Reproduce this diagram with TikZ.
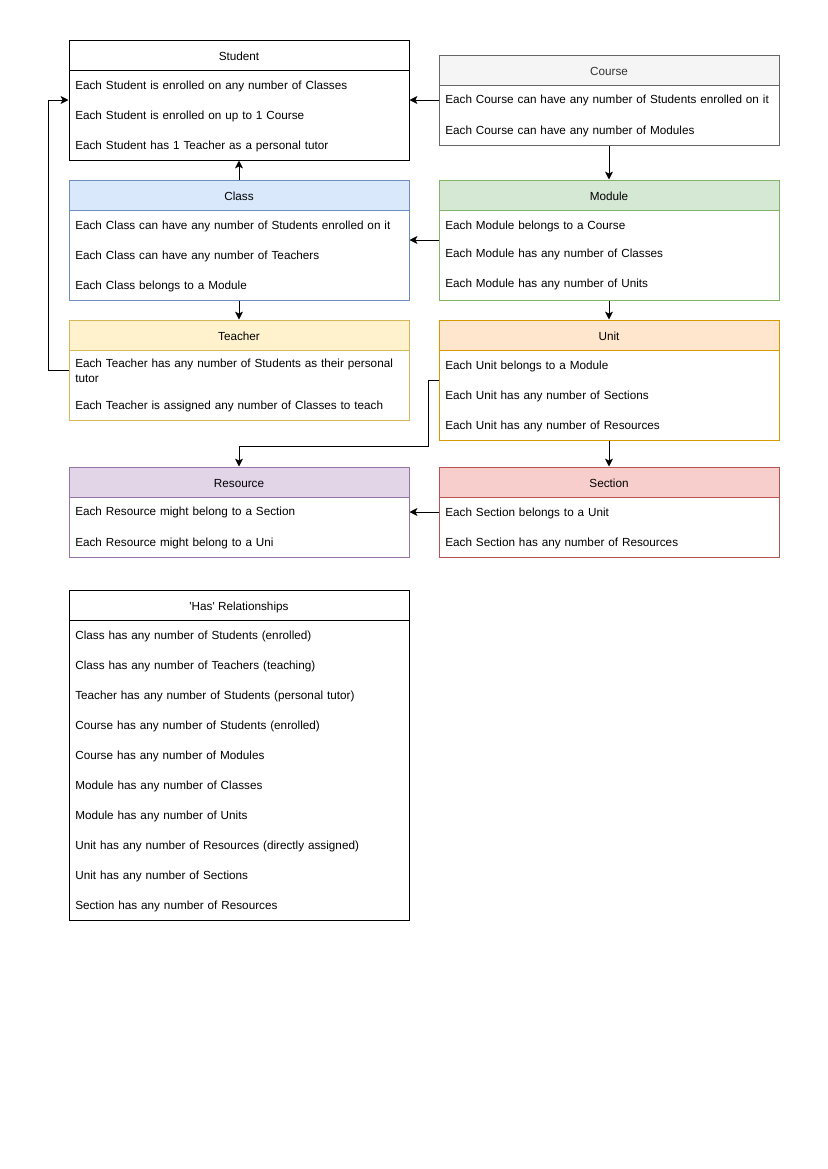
\documentclass[tikz,border=0pt]{standalone}
\usepackage{fontspec}
\setmainfont{Liberation Sans}[Ligatures=TeXOff]
\usepackage{tikz}
\usetikzlibrary{arrows.meta,positioning,calc}
\definecolor{courseFill}{HTML}{F5F5F5}
\definecolor{courseLine}{HTML}{666666}
\definecolor{courseText}{HTML}{333333}
\definecolor{classFill}{HTML}{DAE8FC}
\definecolor{classLine}{HTML}{6C8EBF}
\definecolor{moduleFill}{HTML}{D5E8D4}
\definecolor{moduleLine}{HTML}{82B366}
\definecolor{teacherFill}{HTML}{FFF2CC}
\definecolor{teacherLine}{HTML}{D6B656}
\definecolor{unitFill}{HTML}{FFE6CC}
\definecolor{unitLine}{HTML}{D79B00}
\definecolor{resFill}{HTML}{E1D5E7}
\definecolor{resLine}{HTML}{9673A6}
\definecolor{secFill}{HTML}{F8CECC}
\definecolor{secLine}{HTML}{B85450}
\tikzset{
  entity/.style={draw, fill=white, line width=0.72pt, minimum width=244.8pt, inner sep=0pt},
  head/.style={draw, line width=0.72pt, minimum width=244.8pt, minimum height=21.6pt, inner sep=0pt, anchor=north,
    text height=7.4pt, text depth=0pt, font=\fontsize{8.45}{10.8}\selectfont},
  row/.style={anchor=west, text width=240.5pt, inner xsep=4.32pt, inner ysep=0pt, align=left, yshift=-0.72pt,
    font=\fontsize{8.45}{10.8}\selectfont},
  arrow/.style={-{Stealth[length=5.6pt,width=5.6pt,inset=1.3pt]}, line width=0.72pt},
}
\begin{document}
\begin{tikzpicture}[x=0.72pt, y=-0.72pt]
  \useasboundingbox[fill=white] (0,0) rectangle (827,1169);

  % left column
  \node[entity, minimum height=86.4pt] (student) at (239,100) {};
  \node[head] (studentHead) at (student.north) {Student};
  \node[row] (studentR1) at (69,85) {Each Student is enrolled on any number of Classes};
  \node[row] (studentR2) at (69,115) {Each Student is enrolled on up to 1 Course};
  \node[row] (studentR3) at (69,145) {Each Student has 1 Teacher as a personal tutor};

  \node[entity, draw=classLine, minimum height=86.4pt] (class) at (239,240) {};
  \node[head, fill=classFill, draw=classLine] (classHead) at (class.north) {Class};
  \node[row] (classR1) at (69,225) {Each Class can have any number of Students enrolled on it};
  \node[row] (classR2) at (69,255) {Each Class can have any number of Teachers};
  \node[row] (classR3) at (69,285) {Each Class belongs to a Module};

  \node[entity, draw=teacherLine, minimum height=72pt] (teacher) at (239,370) {};
  \node[head, fill=teacherFill, draw=teacherLine] (teacherHead) at (teacher.north) {Teacher};
  \node[row] (teacherR1) at (69,370) {Each Teacher has any number of Students as their personal\\tutor};
  \node[row] (teacherR2) at (69,405) {Each Teacher is assigned any number of Classes to teach};

  \node[entity, draw=resLine, minimum height=64.8pt] (resource) at (239,512) {};
  \node[head, fill=resFill, draw=resLine] (resourceHead) at (resource.north) {Resource};
  \node[row] (resourceR1) at (69,511) {Each Resource might belong to a Section};
  \node[row] (resourceR2) at (69,542) {Each Resource might belong to a Uni};

  % right column
  \node[entity, draw=courseLine, minimum height=64.8pt] (course) at (609,100) {};
  \node[head, fill=courseFill, draw=courseLine, text=courseText] (courseHead) at (course.north) {Course};
  \node[row] (courseR1) at (439,99) {Each Course can have any number of Students enrolled on it};
  \node[row] (courseR2) at (439,130) {Each Course can have any number of Modules};

  \node[entity, draw=moduleLine, minimum height=86.4pt] (module) at (609,240) {};
  \node[head, fill=moduleFill, draw=moduleLine] (moduleHead) at (module.north) {Module};
  \node[row] (moduleR1) at (439,225) {Each Module belongs to a Course};
  \node[row] (moduleR2) at (439,253) {Each Module has any number of Classes};
  \node[row] (moduleR3) at (439,283) {Each Module has any number of Units};

  \node[entity, draw=unitLine, minimum height=86.4pt] (unit) at (609,380) {};
  \node[head, fill=unitFill, draw=unitLine] (unitHead) at (unit.north) {Unit};
  \node[row] (unitR1) at (439,365) {Each Unit belongs to a Module};
  \node[row] (unitR2) at (439,395) {Each Unit has any number of Sections};
  \node[row] (unitR3) at (439,425) {Each Unit has any number of Resources};

  \node[entity, draw=secLine, minimum height=64.8pt] (section) at (609,512) {};
  \node[head, fill=secFill, draw=secLine] (sectionHead) at (section.north) {Section};
  \node[row] (sectionR1) at (439,512) {Each Section belongs to a Unit};
  \node[row] (sectionR2) at (439,542) {Each Section has any number of Resources};

  % summary table
  \node[entity, minimum height=237.6pt] (has) at (239,755) {};
  \node[head] (hasHead) at (has.north) {'Has' Relationships};
  \node[row] (hasR1) at (69,635) {Class has any number of Students (enrolled)};
  \node[row] (hasR2) at (69,665) {Class has any number of Teachers (teaching)};
  \node[row] (hasR3) at (69,695) {Teacher has any number of Students (personal tutor)};
  \node[row] (hasR4) at (69,725) {Course has any number of Students (enrolled)};
  \node[row] (hasR5) at (69,755) {Course has any number of Modules};
  \node[row] (hasR6) at (69,785) {Module has any number of Classes};
  \node[row] (hasR7) at (69,815) {Module has any number of Units};
  \node[row] (hasR8) at (69,845) {Unit has any number of Resources (directly assigned)};
  \node[row] (hasR9) at (69,875) {Unit has any number of Sections};
  \node[row] (hasR10) at (69,905) {Section has any number of Resources};

  % connectors
  \draw[arrow] (course.west) -- (student.east);
  \draw[arrow] (course.south) -- (moduleHead.north);
  \draw[arrow] (classHead.north) -- (student.south);
  \draw[arrow] (class.south) -- (teacherHead.north);
  \draw[arrow] (module.west) -- (class.east);
  \draw[arrow] (module.south) -- (unitHead.north);
  \draw[arrow] (teacher.west) -- ++(-20,0) |- (student.west);
  \draw[arrow] (unit.west) -- ++(-10,0) |- ($(resourceHead.north)+(0,-20)$) -- (resourceHead.north);
  \draw[arrow] (unit.south) -- (sectionHead.north);
  \draw[arrow] (section.west) -- (resource.east);
\end{tikzpicture}
\end{document}
